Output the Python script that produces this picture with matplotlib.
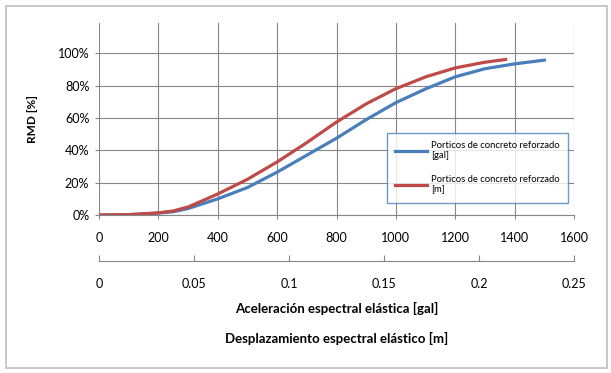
import matplotlib
matplotlib.use("Agg")
import matplotlib.pyplot as plt
from matplotlib.patches import Rectangle
from matplotlib.ticker import FuncFormatter

plt.rcParams["font.family"] = ["Lato", "DejaVu Sans"]

# Porticos de concreto reforzado [gal]
acc_gal = [0, 100, 200, 250, 300, 400, 500, 600, 700, 800, 900, 1000,
           1100, 1200, 1300, 1400, 1500]
rmd_gal = [0.0, 0.002, 0.012, 0.02, 0.04, 0.10, 0.17, 0.265, 0.37, 0.475,
           0.59, 0.695, 0.78, 0.855, 0.905, 0.935, 0.958]

# Porticos de concreto reforzado [m]
disp_m = [0.0, 0.016, 0.031, 0.039, 0.047, 0.0625, 0.078, 0.094, 0.109,
          0.125, 0.141, 0.156, 0.172, 0.1875, 0.203, 0.214]
rmd_m = [0.0, 0.002, 0.013, 0.025, 0.05, 0.13, 0.22, 0.33, 0.445, 0.575,
         0.69, 0.78, 0.855, 0.91, 0.945, 0.962]

gal_ticks = [0, 200, 400, 600, 800, 1000, 1200, 1400, 1600]
m_ticks = [0, 0.05, 0.1, 0.15, 0.2, 0.25]
m_labels = ["0", "0.05", "0.1", "0.15", "0.2", "0.25"]
rmd_ticks = [0, 0.2, 0.4, 0.6, 0.8, 1.0]

BLUE = "#4a7ebb"
RED = "#be4b48"
GRID = "#868686"

fig = plt.figure(figsize=(6.11, 3.73), dpi=100)
fig.patches.append(Rectangle((6 / 611, 5 / 373), 601 / 611, 362 / 373,
                             transform=fig.transFigure, fill=False,
                             edgecolor="#bfbfbf", linewidth=1.2))

ax = fig.add_axes([99 / 611, 1 - 215 / 373, 475 / 611, 191.7 / 373])
ax.set_xlim(0, 1600)
ax.set_ylim(0, 1.186)
ax.set_xticks(gal_ticks)
ax.set_yticks(rmd_ticks)
ax.yaxis.set_major_formatter(FuncFormatter(lambda v, p: f"{v * 100:.0f}%"))
ax.grid(True, color=GRID, linewidth=0.8)
for s in ("top", "right", "left"):
    ax.spines[s].set_visible(False)
ax.spines["bottom"].set_color(GRID)
ax.tick_params(axis="x", direction="out", length=3, color=GRID, pad=9, labelsize=9)
ax.tick_params(axis="y", direction="out", length=3, color=GRID, pad=4, labelsize=9)
ax.set_ylabel("RMD [%]", fontsize=8.5, fontweight="bold", labelpad=14)

l1, = ax.plot(acc_gal, rmd_gal, color=BLUE, linewidth=2.3,
              label="Porticos de concreto reforzado\n[gal]", zorder=3)

ax2 = ax.twiny()
ax2.set_xlim(0, 0.25)
ax2.xaxis.set_ticks_position("bottom")
ax2.xaxis.set_label_position("bottom")
ax2.spines["bottom"].set_position(("outward", 33))
for s in ("top", "right", "left"):
    ax2.spines[s].set_visible(False)
ax2.spines["bottom"].set_color(GRID)
ax2.set_xticks(m_ticks)
ax2.set_xticklabels(m_labels)
ax2.tick_params(axis="x", direction="in", length=4, color=GRID, pad=12, labelsize=9)

l2, = ax2.plot(disp_m, rmd_m, color=RED, linewidth=2.3,
               label="Porticos de concreto reforzado\n[m]", zorder=3)

leg = ax2.legend(handles=[l1, l2], loc="upper left",
                 bbox_to_anchor=(0.606, 0.43), fontsize=6.8,
                 frameon=True, fancybox=False, handlelength=3.3,
                 labelspacing=1.5, borderpad=0.9, handletextpad=0.5,
                 borderaxespad=0)
leg.get_frame().set_edgecolor(BLUE)
leg.get_frame().set_linewidth(1.0)

cx = (99 + 475 / 2) / 611
fig.text(cx, 1 - 308 / 373, "Aceleración espectral elástica [gal]",
         ha="center", va="center", fontsize=9.5, fontweight="bold")
fig.text(cx, 1 - 338 / 373, "Desplazamiento espectral elástico [m]",
         ha="center", va="center", fontsize=9.5, fontweight="bold")

fig.savefig("out.png", dpi=100)
